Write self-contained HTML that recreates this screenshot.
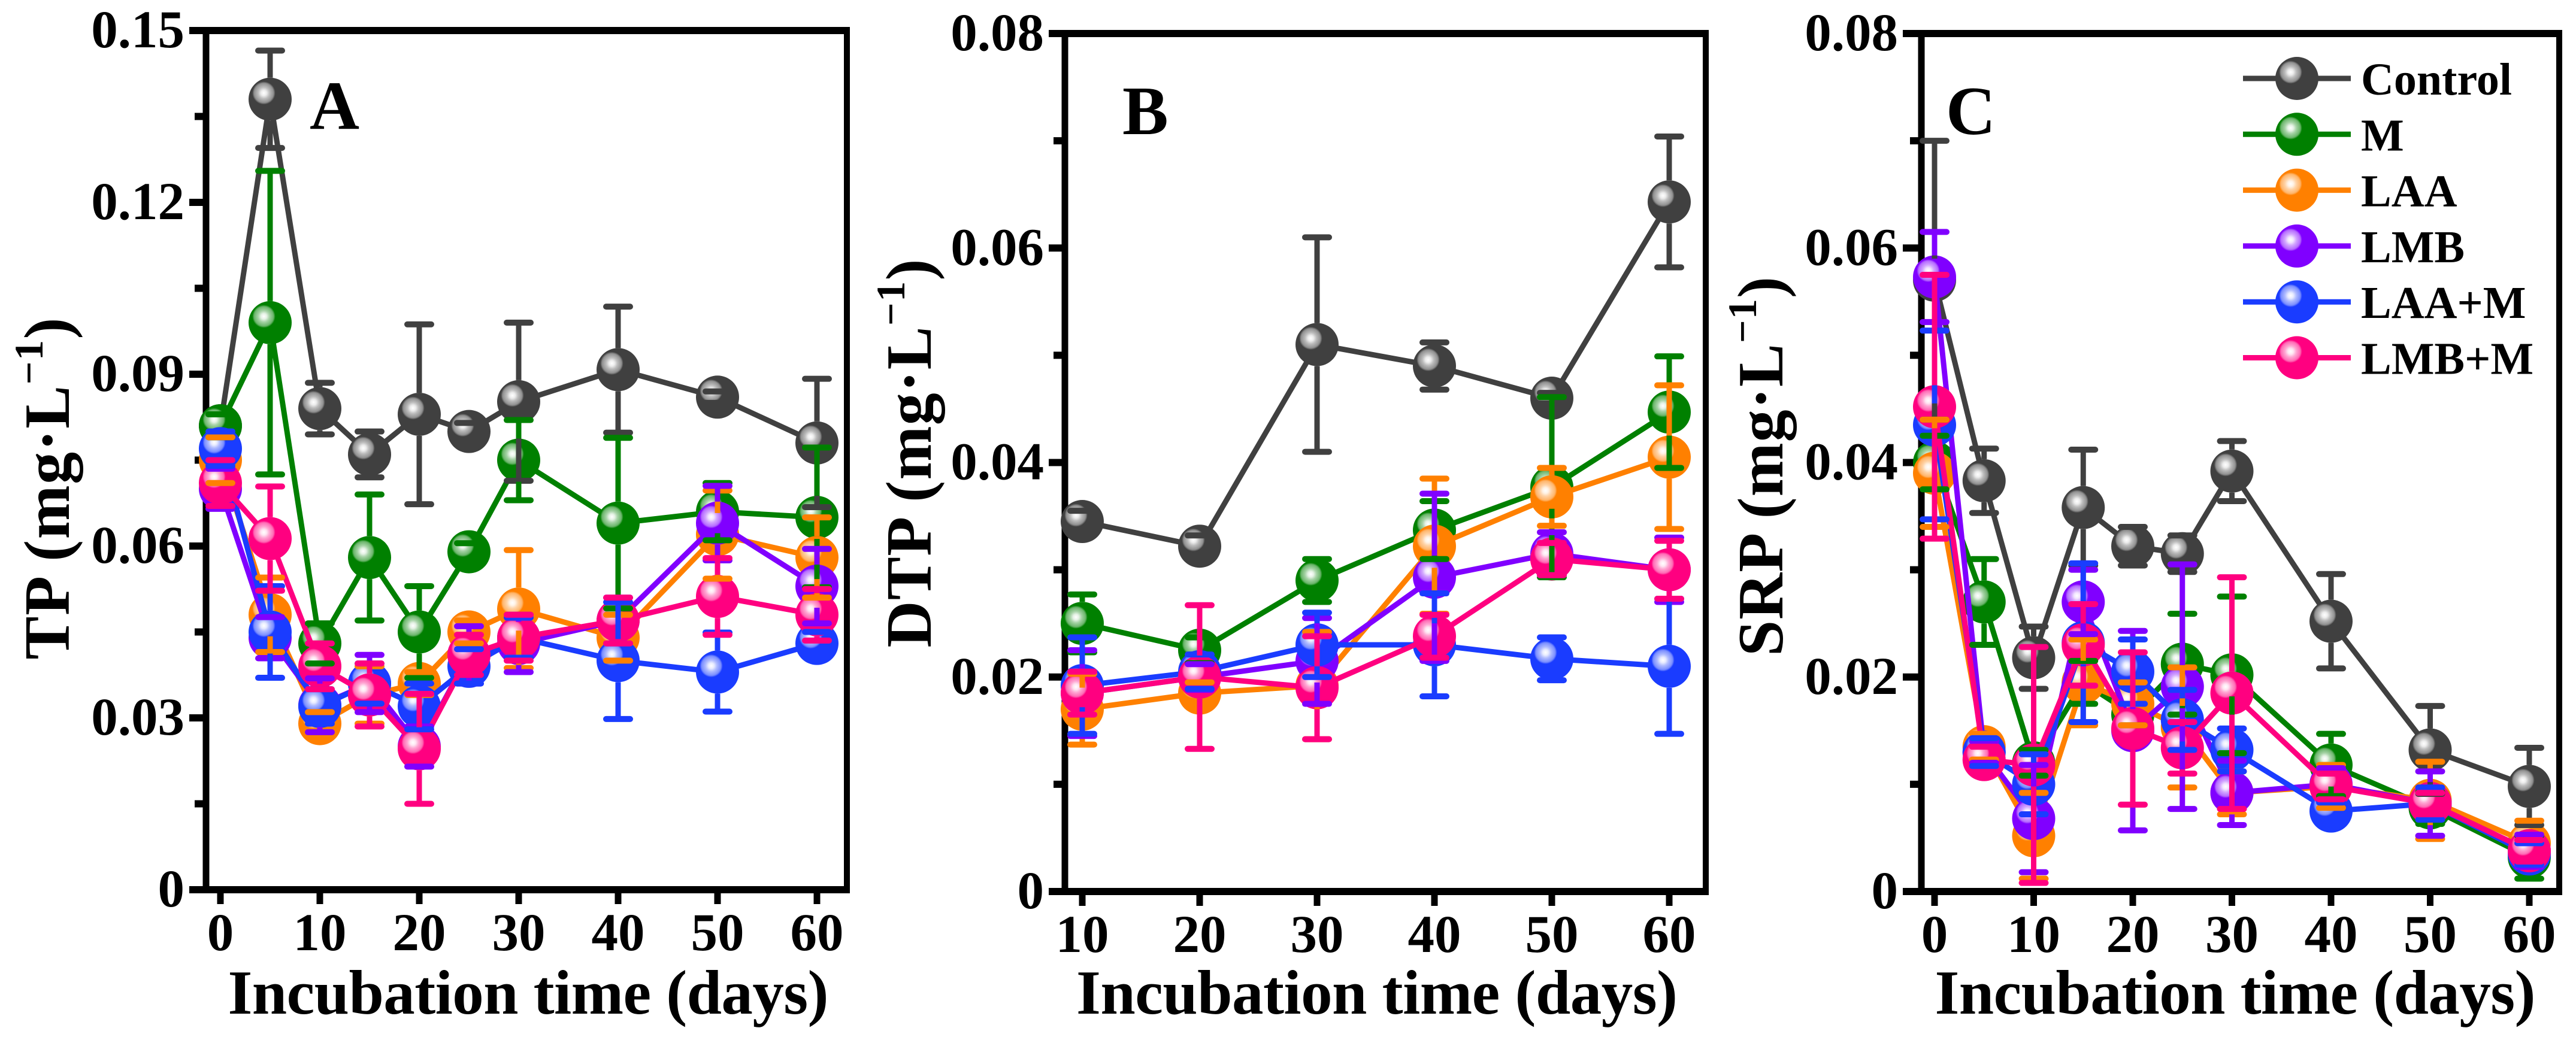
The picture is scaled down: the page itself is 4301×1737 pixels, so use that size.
<!DOCTYPE html>
<html>
<head>
<meta charset="utf-8">
<title>Phosphorus incubation chart</title>
<style>
html,body{margin:0;padding:0;background:#fff;width:4301px;height:1737px;overflow:hidden}
svg{display:block}
text{font-family:"Liberation Serif",serif;font-weight:bold;fill:#000}
</style>
</head>
<body>
<svg id="chart" xmlns="http://www.w3.org/2000/svg" width="4301" height="1737" viewBox="0 0 4301 1737">
<defs>
<radialGradient id="shine" cx="50%" cy="50%" r="50%">
<stop offset="0" stop-color="#fff" stop-opacity="1"/>
<stop offset="0.25" stop-color="#fff" stop-opacity="0.9"/>
<stop offset="0.5" stop-color="#fff" stop-opacity="0.65"/>
<stop offset="0.85" stop-color="#fff" stop-opacity="0.42"/>
<stop offset="1" stop-color="#fff" stop-opacity="0.05"/>
</radialGradient>
</defs>
</svg>
<script>
const seriesNames = ['Control','M','LAA','LMB','LAA+M','LMB+M'];
const seriesColors = ['#404040','#008000','#ff8000','#8000ff','#1a3cff','#ff0080'];

const daysAC = [0,5,10,15,20,25,30,40,50,60];
const daysB = [10,20,30,40,50,60];
const xTicksAC = [0,10,20,30,40,50,60];
const xTicksB = [10,20,30,40,50,60];
const yTicksA = [0,0.03,0.06,0.09,0.12,0.15];
const yTicksA_labels = ['0','0.03','0.06','0.09','0.12','0.15'];
const yTicksBC = [0,0.02,0.04,0.06,0.08];
const yTicksBC_labels = ['0','0.02','0.04','0.06','0.08'];

const tpControl = [0.081,0.138,0.084,0.076,0.083,0.080,0.0852,0.0908,0.086,0.078];
const tpControlErr = [0.002,0.0085,0.0045,0.004,0.0157,0.0015,0.0138,0.011,0.001,0.0112];
const tpM = [0.081,0.099,0.043,0.058,0.045,0.059,0.075,0.064,0.066,0.065];
const tpMErr = [0.002,0.0265,0.0035,0.011,0.008,0.0015,0.007,0.0149,0.005,0.0122];
const tpLAA = [0.075,0.048,0.029,0.034,0.036,0.045,0.049,0.044,0.062,0.058];
const tpLAAErr = [0.004,0.0065,0.002,0.005,0.002,0.002,0.0103,0.004,0.0077,0.007];
const tpLMB = [0.070,0.044,0.0322,0.036,0.025,0.041,0.043,0.047,0.064,0.053];
const tpLMBErr = [0.0035,0.0036,0.0047,0.005,0.0035,0.005,0.005,0.004,0.0065,0.0065];
const tpLAAM = [0.077,0.045,0.032,0.036,0.032,0.039,0.044,0.040,0.038,0.043];
const tpLAAMErr = [0.003,0.008,0.003,0.0035,0.004,0.003,0.0035,0.0102,0.0069,0.002];
const tpLMBM = [0.071,0.0613,0.039,0.034,0.0246,0.041,0.044,0.047,0.0512,0.048];
const tpLMBMErr = [0.004,0.0091,0.004,0.0055,0.0096,0.0035,0.004,0.004,0.0067,0.0045];

const dtpControl = [0.0345,0.0322,0.051,0.049,0.046,0.0643];
const dtpControlErr = [0.001,0.001,0.010,0.0022,0.0005,0.0061];
const dtpM = [0.025,0.0225,0.029,0.0337,0.0377,0.0447];
const dtpMErr = [0.0027,0.0012,0.002,0.0027,0.0084,0.0052];
const dtpLAA = [0.017,0.0185,0.0192,0.0322,0.0368,0.0405];
const dtpLAAErr = [0.0033,0.001,0.005,0.0063,0.0027,0.0067];
const dtpLMB = [0.0185,0.020,0.0215,0.0293,0.0315,0.030];
const dtpLMBErr = [0.004,0.0012,0.004,0.0078,0.002,0.003];
const dtpLAAM = [0.0192,0.0205,0.023,0.023,0.0217,0.021];
const dtpLAAMErr = [0.0045,0.0016,0.003,0.0048,0.002,0.0063];
const dtpLMBM = [0.0185,0.020,0.019,0.0238,0.031,0.030];
const dtpLMBMErr = [0.002,0.0067,0.0048,0.002,0.0015,0.0027];

const srpControl = [0.057,0.0383,0.0218,0.0358,0.0322,0.0315,0.0392,0.0252,0.0132,0.0098];
const srpControlErr = [0.013,0.003,0.0029,0.0054,0.0018,0.0017,0.0028,0.0044,0.0041,0.0036];
const srpM = [0.040,0.027,0.012,0.0195,0.0165,0.0212,0.0202,0.0118,0.0078,0.0032];
const srpMErr = [0.0025,0.004,0.0012,0.002,0.001,0.0047,0.0073,0.0029,0.0015,0.002];
const srpLAA = [0.039,0.0135,0.0052,0.0195,0.0175,0.0153,0.0092,0.0098,0.0085,0.0045];
const srpLAAErr = [0.005,0.0012,0.004,0.004,0.002,0.0056,0.002,0.002,0.0036,0.0021];
const srpLMB = [0.0573,0.013,0.0068,0.027,0.015,0.0191,0.0092,0.010,0.0082,0.0038];
const srpLMBErr = [0.0042,0.001,0.005,0.003,0.0093,0.0114,0.003,0.0015,0.003,0.0015];
const srpLAAM = [0.0435,0.013,0.010,0.0232,0.0205,0.016,0.0132,0.0075,0.0082,0.0035];
const srpLAAMErr = [0.0088,0.0013,0.0028,0.0074,0.003,0.0028,0.002,0.0008,0.0015,0.001];
const srpLMBM = [0.0452,0.0123,0.0118,0.023,0.0152,0.0134,0.0185,0.0098,0.0082,0.0038];
const srpLMBMErr = [0.0123,0.0012,0.011,0.0038,0.0071,0.0024,0.0108,0.0012,0.001,0.001];

const NS = 'http://www.w3.org/2000/svg';
const root = document.getElementById('chart');
const R = 36;

function make(tag, attrs, parent, txt) {
  const el = document.createElementNS(NS, tag);
  for (const k in attrs) el.setAttribute(k, attrs[k]);
  if (txt !== undefined) el.textContent = txt;
  (parent || root).appendChild(el);
  return el;
}
function slug(s) { return s.toLowerCase().replace('+', '-plus-'); }

function drawMarker(parent, cx, cy, color, r) {
  const g = make('g', {}, parent);
  
  
  make('circle', {cx: cx, cy: cy, r: r, fill: color}, g);
  make('circle', {cx: cx - 10.5, cy: cy - 10.5, r: 19, fill: 'url(#shine)'}, g);
}

function drawPanel(cfg) {
  const panel = make('g', {});
  
  

  // axes frame
  const lines = [
    [cfg.left, cfg.yScale(cfg.yMax), cfg.left, cfg.yScale(0), 11, 'y-axis-line'],
    [cfg.right, cfg.yScale(cfg.yMax), cfg.right, cfg.yScale(0), 10, 'right-spine'],
    [cfg.tickX, cfg.yScale(cfg.yMax), cfg.right + 5, cfg.yScale(cfg.yMax), 12, 'top-spine'],
    [cfg.tickX, cfg.yScale(0), cfg.right + 5, cfg.yScale(0), 12, 'x-axis-line']
  ];
  lines.forEach(function (l) {
    const ln = make('line', {x1: l[0], y1: l[1], x2: l[2], y2: l[3], stroke: '#000', 'stroke-width': l[4]}, panel);
    
    
  });

  // y ticks
  cfg.yTicks.forEach(function (v, i) {
    const y = cfg.yScale(v);
    if (i > 0 && i < cfg.yTicks.length - 1) {
      const t = make('line', {x1: cfg.tickX, y1: y, x2: cfg.left, y2: y, stroke: '#000', 'stroke-width': 12}, panel);
      
      
    }
    const lab = make('text', {x: cfg.tickX - 8, y: y + 28, 'text-anchor': 'end', 'font-size': 89}, panel, cfg.yLabels[i]);
    
    
    if (i < cfg.yTicks.length - 1) {
      const ym = cfg.yScale((v + cfg.yTicks[i + 1]) / 2);
      const m = make('line', {x1: cfg.left - 19, y1: ym, x2: cfg.left, y2: ym, stroke: '#000', 'stroke-width': 12}, panel);
      
      
    }
  });

  // x ticks
  cfg.xTicks.forEach(function (v) {
    const x = cfg.xScale(v);
    const t = make('line', {x1: x, y1: cfg.yScale(0), x2: x, y2: cfg.yScale(0) + 24, stroke: '#000', 'stroke-width': 11}, panel);
    
    
    const lab = make('text', {x: x, y: cfg.yScale(0) + 101, 'text-anchor': 'middle', 'font-size': 89}, panel, String(v));
    
    
  });

  // lines + markers
  const series = make('g', {}, panel);
  
  
  cfg.values.forEach(function (vals, s) {
    const g = make('g', {}, series);
    
    
    const pts = vals.map(function (v, i) { return cfg.xScale(cfg.days[i]) + ',' + cfg.yScale(v); }).join(' ');
    const pl = make('polyline', {points: pts, fill: 'none', stroke: seriesColors[s], 'stroke-width': 9, 'stroke-linejoin': 'round'}, g);
    
    
    vals.forEach(function (v, i) {
      drawMarker(g, cfg.xScale(cfg.days[i]), cfg.yScale(v), seriesColors[s], R);
    });
  });

  // error bars on top
  const errs = make('g', {}, panel);
  
  
  cfg.errors.forEach(function (es, s) {
    es.forEach(function (e, i) {
      const x = cfg.xScale(cfg.days[i]);
      const v = cfg.values[s][i];
      const yc = cfg.yScale(v), yHi = cfg.yScale(v + e), yLo = cfg.yScale(v - e);
      const g = make('g', {stroke: seriesColors[s], 'stroke-width': 9}, errs);
      
      
      if (yc - yHi > R) make('line', {x1: x, y1: yc - R, x2: x, y2: yHi}, g);
      if (yLo - yc > R) make('line', {x1: x, y1: yc + R, x2: x, y2: yLo}, g);
      make('line', {x1: x - 20, y1: yHi, x2: x + 20, y2: yHi, 'stroke-width': 10, 'stroke-linecap': 'round'}, g);
      make('line', {x1: x - 20, y1: yLo, x2: x + 20, y2: yLo, 'stroke-width': 10, 'stroke-linecap': 'round'}, g);
    });
  });

  // titles
  const xt = make('text', {x: cfg.xTitleX, y: 1693, 'text-anchor': 'middle', 'font-size': 105, textLength: cfg.xTitleW, lengthAdjust: 'spacing'}, panel, 'Incubation time (days)');
  
  

  const yt = make('text', {transform: 'translate(' + cfg.yTitleX + ',' + cfg.yTitleY + ') rotate(-90)', 'text-anchor': 'middle', 'font-size': 108, textLength: cfg.yTitleW, lengthAdjust: 'spacing'}, panel);
  
  
  make('tspan', {}, yt, cfg.yTitle + ' (mg·L');
  make('tspan', {dy: -44, 'font-size': 68}, yt, '−1');
  make('tspan', {dy: 44}, yt, ')');

  const pl = make('text', {x: cfg.letterX, y: cfg.letterY, 'font-size': 115}, panel, cfg.letter);
  
  
}

function xScaleA(v) { return 368 + 16.6 * v; }
function yScaleA(v) { return 1486 - v * (287 / 0.03); }
function xScaleB(v) { return 1807 + 19.6 * (v - 10); }
function yScaleB(v) { return 1489 - v * (1433 / 0.08); }
function xScaleC(v) { return 3230 + 16.55 * v; }
function yScaleC(v) { return 1489 - v * (1433 / 0.08); }

drawPanel({
  name: 'panel-a-tp', letter: 'A', letterX: 517, letterY: 215,
  left: 344, right: 1414, tickX: 316, yMax: 0.15,
  xScale: xScaleA, yScale: yScaleA, days: daysAC, xTicks: xTicksAC,
  yTicks: yTicksA, yLabels: yTicksA_labels,
  values: [tpControl, tpM, tpLAA, tpLMB, tpLAAM, tpLMBM],
  errors: [tpControlErr, tpMErr, tpLAAErr, tpLMBErr, tpLAAMErr, tpLMBMErr],
  xTitleX: 882, xTitleW: 1003,
  yTitle: 'TP', yTitleX: 115, yTitleY: 816, yTitleW: 571
});
drawPanel({
  name: 'panel-b-dtp', letter: 'B', letterX: 1874, letterY: 224,
  left: 1778, right: 2848, tickX: 1751, yMax: 0.08,
  xScale: xScaleB, yScale: yScaleB, days: daysB, xTicks: xTicksB,
  yTicks: yTicksBC, yLabels: yTicksBC_labels,
  values: [dtpControl, dtpM, dtpLAA, dtpLMB, dtpLAAM, dtpLMBM],
  errors: [dtpControlErr, dtpMErr, dtpLAAErr, dtpLMBErr, dtpLAAMErr, dtpLMBMErr],
  xTitleX: 2299, xTitleW: 1004,
  yTitle: 'DTP', yTitleX: 1554, yTitleY: 757, yTitleW: 649
});
drawPanel({
  name: 'panel-c-srp', letter: 'C', letterX: 3249, letterY: 224,
  left: 3208, right: 4273, tickX: 3177, yMax: 0.08,
  xScale: xScaleC, yScale: yScaleC, days: daysAC, xTicks: xTicksAC,
  yTicks: yTicksBC, yLabels: yTicksBC_labels,
  values: [srpControl, srpM, srpLAA, srpLMB, srpLAAM, srpLMBM],
  errors: [srpControlErr, srpMErr, srpLAAErr, srpLMBErr, srpLAAMErr, srpLMBMErr],
  xTitleX: 3732, xTitleW: 1003,
  yTitle: 'SRP', yTitleX: 2976, yTitleY: 779, yTitleW: 634
});

// legend
const legend = make('g', {});


seriesNames.forEach(function (name, i) {
  const y = 131 + i * 93.3;
  const g = make('g', {}, legend);
  
  
  make('line', {x1: 3745, y1: y, x2: 3925, y2: y, stroke: seriesColors[i], 'stroke-width': 9}, g);
  drawMarker(g, 3835, y, seriesColors[i], R);
  make('text', {x: 3942, y: y + 27, 'font-size': 76}, g, name);
});
</script>
</body>
</html>
